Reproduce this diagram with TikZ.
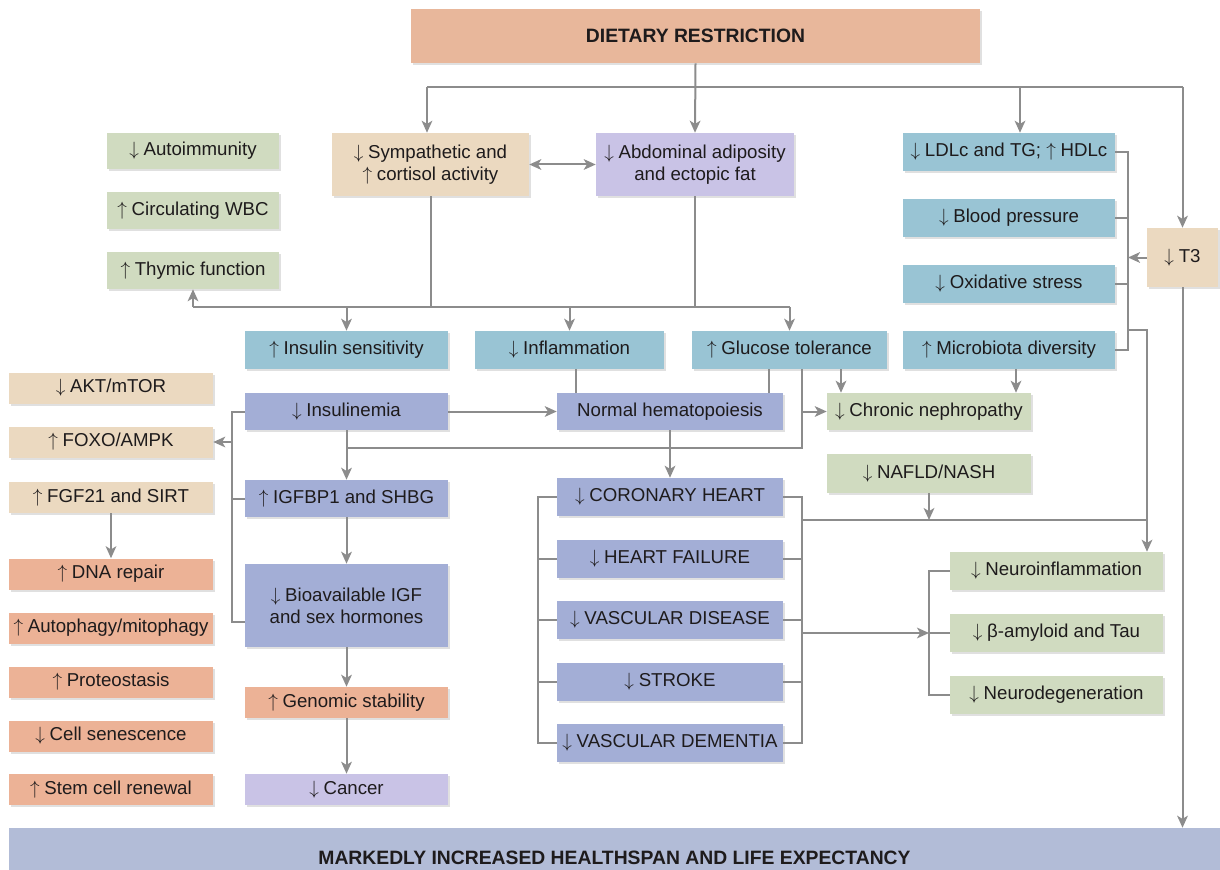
\documentclass[tikz,border=0pt]{standalone}
\usepackage{fontspec}
\setmainfont{Liberation Sans}
\usetikzlibrary{arrows.meta,calc,shadows}
\definecolor{cDR}{RGB}{232,183,155}
\definecolor{cGreen}{RGB}{208,219,192}
\definecolor{cTan}{RGB}{235,217,192}
\definecolor{cLav}{RGB}{201,195,230}
\definecolor{cTeal}{RGB}{153,196,212}
\definecolor{cPeri}{RGB}{163,174,214}
\definecolor{cSalm}{RGB}{236,178,150}
\definecolor{cBar}{RGB}{178,188,215}
\definecolor{cLine}{RGB}{140,140,140}
\definecolor{txt}{RGB}{30,27,28}
\newcommand\myDn{\ensuremath{\downarrow}\kern0.25em}
\newcommand\myUp{\ensuremath{\uparrow}\kern0.25em}
\begin{document}
\begin{tikzpicture}[x=0.75pt,y=-0.75pt,
  font=\fontsize{14}{16.5}\selectfont,
  bx/.style={fill=#1, draw=none, inner sep=0pt, align=center, text=txt,
    drop shadow={shadow xshift=1.5pt, shadow yshift=-1.5pt, opacity=0.12, fill=black}},
  wh/.style 2 args={minimum width={#1*0.75pt}, minimum height={#2*0.75pt}},
  ln/.style={draw=cLine, line width=1.5pt},
  ar/.style={ln, -{Stealth[length=9pt,width=8pt,inset=2.4pt]}},
  ar2/.style={ln, {Stealth[length=9pt,width=8pt,inset=2.4pt]}-{Stealth[length=9pt,width=8pt,inset=2.4pt]}},
]
\useasboundingbox (0,0) rectangle (1220,870);
\clip (0,0) rectangle (1220,870);

% nodes
\node[bx=cDR, wh={569}{54}, font=\fontsize{14.5}{17}\selectfont\bfseries] (dr) at (695.5,36) {DIETARY RESTRICTION};

\node[bx=cGreen, wh={172}{36}] (auto) at (193,151) {\myDn Autoimmunity};
\node[bx=cGreen, wh={172}{37}] (wbc) at (193,210.5) {\myUp Circulating WBC};
\node[bx=cGreen, wh={172}{37}] (thym) at (193,270.5) {\myUp Thymic function};

\node[bx=cTan, wh={197}{63}] (symp) at (430.5,164.5) {\myDn Sympathetic and\\\myUp cortisol activity};
\node[bx=cLav, wh={198}{63}] (abd) at (695,164.5) {\myDn Abdominal adiposity\\and ectopic fat};

\node[bx=cTeal, wh={212}{38}] (ldl) at (1009,152) {\myDn LDLc and TG; \myUp HDLc};
\node[bx=cTeal, wh={212}{38}] (bp) at (1009,218) {\myDn Blood pressure};
\node[bx=cTeal, wh={212}{38}] (os) at (1009,284) {\myDn Oxidative stress};
\node[bx=cTeal, wh={212}{38}] (mic) at (1009,350) {\myUp Microbiota diversity};
\node[bx=cTan, wh={71}{59}] (t3) at (1182.5,257.5) {\myDn T3};

\node[bx=cTeal, wh={203}{38}] (ins) at (346.5,350) {\myUp Insulin sensitivity};
\node[bx=cTeal, wh={189}{38}] (infl) at (569.5,350) {\myDn Inflammation};
\node[bx=cTeal, wh={195}{38}] (gt) at (789.5,350) {\myUp Glucose tolerance};

\node[bx=cTan, wh={204}{31}] (akt) at (111,388) {\myDn AKT/mTOR};
\node[bx=cTan, wh={204}{31}] (foxo) at (111,442) {\myUp FOXO/AMPK};
\node[bx=cTan, wh={204}{31}] (fgf) at (111,497.5) {\myUp FGF21 and SIRT};
\node[bx=cSalm, wh={204}{31}] (dna) at (111,574) {\myUp DNA repair};
\node[bx=cSalm, wh={204}{31}] (aut) at (111,628) {\myUp Autophagy/mitophagy};
\node[bx=cSalm, wh={204}{31}] (prot) at (111,682) {\myUp Proteostasis};
\node[bx=cSalm, wh={204}{31}] (sen) at (111,736) {\myDn Cell senescence};
\node[bx=cSalm, wh={204}{31}] (stem) at (111,789.5) {\myUp Stem cell renewal};

\node[bx=cPeri, wh={203}{37}] (insm) at (346.5,411.5) {\myDn Insulinemia};
\node[bx=cPeri, wh={226}{37}] (nh) at (670,411.5) {Normal hematopoiesis};
\node[bx=cGreen, wh={204}{37}] (cn) at (929,411.5) {\myDn Chronic nephropathy};
\node[bx=cPeri, wh={203}{37}] (igf) at (346.5,498.5) {\myUp IGFBP1 and SHBG};
\node[bx=cPeri, wh={203}{83}] (bio) at (346.5,605.5) {\myDn Bioavailable IGF\\and sex hormones};
\node[bx=cSalm, wh={203}{31}] (gen) at (346.5,702.5) {\myUp Genomic stability};
\node[bx=cLav, wh={203}{31}] (can) at (346.5,789.5) {\myDn Cancer};
\node[bx=cGreen, wh={204}{39}] (naf) at (929,473.5) {\myDn NAFLD/NASH};

\node[bx=cPeri, wh={226}{38}] (cor) at (670,497) {\myDn CORONARY HEART};
\node[bx=cPeri, wh={226}{38}] (hf) at (670,558.5) {\myDn HEART FAILURE};
\node[bx=cPeri, wh={226}{38}] (vd) at (670,620) {\myDn VASCULAR DISEASE};
\node[bx=cPeri, wh={226}{38}] (st) at (670,681.5) {\myDn STROKE};
\node[bx=cPeri, wh={226}{38}] (vdm) at (670,743) {\myDn VASCULAR DEMENTIA};

\node[bx=cGreen, wh={213}{38}] (neu1) at (1056.5,571) {\myDn Neuroinflammation};
\node[bx=cGreen, wh={213}{38}] (amy) at (1056.5,633) {\myDn β-amyloid and Tau};
\node[bx=cGreen, wh={213}{38}] (neu3) at (1056.5,694.5) {\myDn Neurodegeneration};

\node[bx=cBar, wh={1211}{42}] (bar) at (614.5,849) {};
\node[text=txt, inner sep=0pt, font=\fontsize{14.5}{17}\selectfont\bfseries] (bartext) at (614.5,858) {MARKEDLY INCREASED HEALTHSPAN AND LIFE EXPECTANCY};

% helper coordinates
\coordinate (toprow) at (0,87);
\coordinate (hrow) at (0,307);
\coordinate (xL) at (232,0);
\coordinate (yL) at (0,622);
\coordinate (xR) at (1128,0);
\coordinate (yRout) at (0,330);
\coordinate (xN) at (1147,0);
\coordinate (yH) at (0,448);
\coordinate (yJ) at (0,520);
\coordinate (xCL) at (538,0);
\coordinate (xCR) at (802,0);
\coordinate (xNB) at (929,0);
\coordinate (xGT1) at (769,0);
\coordinate (xGT3) at (841,0);
\coordinate (xMic) at (1016,0);
\coordinate (xLDL) at (1020,0);
\coordinate (xInfl) at (576,0);
\coordinate (xSym) at (427,0);

% connectors from top
\draw[ar] (dr.south) -- (abd.north);
\draw[ln] (toprow -| xSym) -- (toprow -| t3.north);
\draw[ar] (toprow -| xSym) -- (symp.north -| xSym);
\draw[ar] (toprow -| xLDL) -- (ldl.north -| xLDL);
\draw[ar] (toprow -| t3.north) -- (t3.north);
\draw[ar2] (symp.east) -- (abd.west);

% second row distribution
\draw[ln] (symp.south) -- (hrow -| symp.south);
\draw[ln] (abd.south) -- (hrow -| abd.south);
\draw[ln] (hrow -| thym.south) -- (hrow -| gt.north);
\draw[ar] (hrow -| thym.south) -- (thym.south);
\draw[ar] (hrow -| ins.north) -- (ins.north);
\draw[ar] (hrow -| infl.north) -- (infl.north);
\draw[ar] (hrow -| gt.north) -- (gt.north);

% hematopoiesis etc.
\draw[ln] (infl.south -| xInfl) -- (nh.north -| xInfl);
\draw[ln] (gt.south -| xGT1) -- (nh.north -| xGT1);
\draw[ar] (insm.east) -- (nh.west);
\draw[ln] (gt.south -| xCR) -- (yH -| xCR) -- (yH -| insm.south);
\draw[ar] (insm.south) -- (igf.north);
\draw[ar] (cn.west -| xCR) -- (cn.west);
\draw[ar] (gt.south -| xGT3) -- (cn.north -| xGT3);
\draw[ar] (mic.south -| xMic) -- (cn.north -| xMic);
\draw[ar] (nh.south) -- (cor.north);

% right bracket
\draw[ln] (ldl.east) -- (ldl.east -| xR) -- (mic.east -| xR) -- (mic.east);
\draw[ln] (bp.east) -- (bp.east -| xR);
\draw[ln] (os.east) -- (os.east -| xR);
\draw[ar] (t3.west) -- (t3.west -| xR);
\draw[ar] (yRout -| xR) -- (yRout -| xN) -- (neu1.north -| xN);
\draw[ln] (yJ -| xCR) -- (yJ -| xN);
\draw[ar] (naf.south) -- (yJ -| naf.south);

% cardiovascular brackets
\draw[ln] (cor.west) -- (cor.west -| xCL) -- (vdm.west -| xCL) -- (vdm.west);
\draw[ln] (hf.west) -- (hf.west -| xCL);
\draw[ln] (vd.west) -- (vd.west -| xCL);
\draw[ln] (st.west) -- (st.west -| xCL);
\draw[ln] (cor.east) -- (cor.east -| xCR) -- (vdm.east -| xCR) -- (vdm.east);
\draw[ln] (hf.east) -- (hf.east -| xCR);
\draw[ln] (vd.east) -- (vd.east -| xCR);
\draw[ln] (st.east) -- (st.east -| xCR);
\draw[ar] (amy.west -| xCR) -- (amy.west -| xNB);

% neuro bracket
\draw[ln] (neu1.west) -- (neu1.west -| xNB) -- (neu3.west -| xNB) -- (neu3.west);
\draw[ln] (amy.west) -- (amy.west -| xNB);

% T3 to bottom
\draw[ar] (t3.south) -- (bar.north -| t3.south);

% left bracket
\draw[ln] (insm.west) -- (insm.west -| xL) -- (yL -| xL) -- (yL -| bio.west);
\draw[ln] (igf.west) -- (igf.west -| xL);
\draw[ar] (foxo.east -| xL) -- (foxo.east);
\draw[ar] (fgf.south) -- (dna.north);
\draw[ar] (igf.south) -- (bio.north);
\draw[ar] (bio.south) -- (gen.north);
\draw[ar] (gen.south) -- (can.north);
\end{tikzpicture}
\end{document}
